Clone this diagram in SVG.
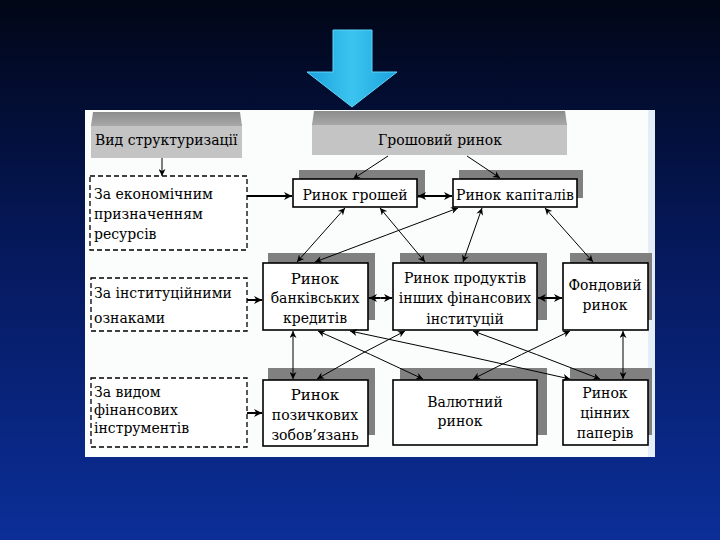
<svg xmlns="http://www.w3.org/2000/svg" width="720" height="540" viewBox="0 0 720 540">
<defs>
<linearGradient id="bg" x1="0" y1="0" x2="0" y2="1">
<stop offset="0" stop-color="#010616"/>
<stop offset="0.45" stop-color="#05185a"/>
<stop offset="1" stop-color="#0b2e98"/>
</linearGradient>
<linearGradient id="arr" x1="0" y1="0" x2="1" y2="0">
<stop offset="0" stop-color="#1aa2dc"/>
<stop offset="0.5" stop-color="#3cc4f0"/>
<stop offset="1" stop-color="#1aa2dc"/>
</linearGradient>
<linearGradient id="band" x1="0" y1="0" x2="0" y2="1">
<stop offset="0" stop-color="#8c8c8c"/>
<stop offset="1" stop-color="#a8a8a8"/>
</linearGradient>
<marker id="a" viewBox="0 0 10 10" refX="10" refY="5" markerWidth="9" markerHeight="7" markerUnits="userSpaceOnUse" orient="auto">
<path d="M0,0 L10,5 L0,10 L3,5 Z" fill="#000"/>
</marker>
<marker id="b" viewBox="0 0 10 10" refX="10" refY="5" markerWidth="11" markerHeight="8" markerUnits="userSpaceOnUse" orient="auto">
<path d="M0,0 L10,5 L0,10 L3,5 Z" fill="#000"/>
</marker>
</defs>
<style>
text{font-family:"DejaVu Serif","Liberation Serif",serif;font-size:14px;fill:#000}
.c{text-anchor:middle}
.sh{fill:#808080}
.bx{fill:#fff;stroke:#000;stroke-width:1.6}
.ds{fill:#fff;stroke:#000;stroke-width:1.3;stroke-dasharray:5 3}
.gr{fill:#c4c4c4}
.ln{stroke:#000;stroke-width:1;fill:none;marker-end:url(#a)}
.tk{stroke:#000;stroke-width:2;fill:none;marker-end:url(#b)}
</style>
<rect width="720" height="540" fill="url(#bg)"/>
<g id="big-arrow">
<path d="M333,30 H372 V72 H397 L352,107 L307,72 H333 Z" fill="url(#arr)" stroke="#5fd6f8" stroke-width="1"/>
</g>
<rect id="panel" x="85" y="110" width="570" height="347" fill="#fbfcfc"/>
<rect x="648" y="110" width="7" height="347" fill="#e4eef8"/>

<g id="vyd">
<rect class="gr" x="91" y="124" width="151" height="34"/>
<path d="M93,112 H240 L242,126 H91 Z" fill="url(#band)"/>
<text x="95" y="145">Вид структуризації</text>
</g>
<g id="groshovyi">
<rect class="gr" x="312" y="123" width="255" height="32"/>
<path d="M314,111 H565 L567,125 H312 Z" fill="url(#band)"/>
<text class="c" x="440" y="145">Грошовий ринок</text>
</g>

<g id="d1">
<rect class="ds" x="90" y="176" width="157" height="74"/>
<text x="94" y="199">За економічним</text>
<text x="94" y="219">призначенням</text>
<text x="94" y="239">ресурсів</text>
</g>
<g id="d2">
<rect class="ds" x="91" y="278" width="156" height="53"/>
<text x="94" y="298">За інституційними</text>
<text x="94" y="323">ознаками</text>
</g>
<g id="d3">
<rect class="ds" x="91" y="378" width="156" height="69"/>
<text x="94" y="397">За видом</text>
<text x="94" y="415">фінансових</text>
<text x="94" y="433">інструментів</text>
</g>

<g id="groshei">
<rect class="sh" x="299" y="170" width="126" height="28"/>
<rect class="bx" x="293" y="179" width="124" height="28"/>
<text class="c" x="355" y="200">Ринок грошей</text>
</g>
<g id="kapitaliv">
<rect class="sh" x="459" y="170" width="124" height="28"/>
<rect class="bx" x="453" y="179" width="124" height="28"/>
<text class="c" x="515" y="200">Ринок капіталів</text>
</g>

<g id="bank">
<rect class="sh" x="268" y="253" width="107" height="67"/>
<rect class="bx" x="263" y="263" width="105" height="67"/>
<text class="c" x="315" y="284" style="font-size:15px">Ринок</text>
<text class="c" x="315" y="303">банківських</text>
<text class="c" x="315" y="323">кредитів</text>
</g>
<g id="produkty">
<rect class="sh" x="400" y="253" width="147" height="67"/>
<rect class="bx" x="393" y="263" width="144" height="67"/>
<text class="c" x="465" y="283">Ринок продуктів</text>
<text class="c" x="465" y="303">інших  фінансових</text>
<text class="c" x="465" y="324">інституцій</text>
</g>
<g id="fondovyi">
<rect class="sh" x="570" y="253" width="82" height="67"/>
<rect class="bx" x="563" y="263" width="85" height="67"/>
<text class="c" x="605" y="290">Фондовий</text>
<text class="c" x="605" y="310">ринок</text>
</g>

<g id="pozychkovykh">
<rect class="sh" x="268" y="368" width="107" height="67"/>
<rect class="bx" x="263" y="380" width="105" height="66"/>
<text class="c" x="315" y="400" style="font-size:15px">Ринок</text>
<text class="c" x="315" y="420">позичкових</text>
<text class="c" x="315" y="440">зобов’язань</text>
</g>
<g id="valiutnyi">
<rect class="sh" x="400" y="368" width="147" height="67"/>
<rect class="bx" x="393" y="380" width="144" height="65"/>
<text class="c" x="465" y="407">Валютний</text>
<text class="c" x="460" y="426">ринок</text>
</g>
<g id="tsinnykh">
<rect class="sh" x="570" y="368" width="82" height="67"/>
<rect class="bx" x="563" y="380" width="85" height="65"/>
<text class="c" x="605" y="398">Ринок</text>
<text class="c" x="605" y="418">цінних</text>
<text class="c" x="605" y="438">паперів</text>
</g>

<g id="connectors">
<line class="ln" x1="162" y1="158" x2="162" y2="176"/>
<line class="ln" x1="388" y1="156" x2="353" y2="179"/>
<line class="ln" x1="467" y1="156" x2="500" y2="178"/>
<line class="tk" x1="247" y1="196" x2="292" y2="196"/>
<line class="tk" x1="435" y1="196" x2="418" y2="196"/>
<line class="tk" x1="435" y1="196" x2="452" y2="196"/>
<line class="ln" x1="321" y1="235" x2="345" y2="208"/>
<line class="ln" x1="321" y1="235" x2="297" y2="262"/>
<line class="ln" x1="402.5" y1="235" x2="380" y2="208"/>
<line class="ln" x1="402.5" y1="235" x2="425" y2="262"/>
<line class="ln" x1="386.5" y1="235" x2="458" y2="208"/>
<line class="ln" x1="386.5" y1="235" x2="315" y2="262"/>
<line class="ln" x1="472.5" y1="235" x2="482" y2="208"/>
<line class="ln" x1="472.5" y1="235" x2="463" y2="262"/>
<line class="ln" x1="569" y1="235" x2="545" y2="208"/>
<line class="ln" x1="569" y1="235" x2="593" y2="262"/>
<line class="tk" x1="247" y1="300" x2="262" y2="300"/>
<line class="tk" x1="380.5" y1="298" x2="369" y2="298"/>
<line class="tk" x1="380.5" y1="298" x2="392" y2="298"/>
<line class="tk" x1="550" y1="298" x2="538" y2="298"/>
<line class="tk" x1="550" y1="298" x2="562" y2="298"/>
<line class="ln" x1="293" y1="355" x2="293" y2="331"/>
<line class="ln" x1="293" y1="355" x2="293" y2="379"/>
<line class="ln" x1="623" y1="355" x2="623" y2="331"/>
<line class="ln" x1="623" y1="355" x2="623" y2="379"/>
<line class="ln" x1="370.5" y1="354.5" x2="318" y2="331"/>
<line class="ln" x1="370.5" y1="354.5" x2="423" y2="379"/>
<line class="ln" x1="460" y1="354.5" x2="350" y2="331"/>
<line class="ln" x1="460" y1="354.5" x2="570" y2="379"/>
<line class="ln" x1="361" y1="354" x2="405" y2="331"/>
<line class="ln" x1="361" y1="354" x2="317" y2="379"/>
<line class="ln" x1="536.5" y1="354.5" x2="473" y2="331"/>
<line class="ln" x1="536.5" y1="354.5" x2="600" y2="379"/>
<line class="ln" x1="521.5" y1="354.5" x2="570" y2="331"/>
<line class="ln" x1="521.5" y1="354.5" x2="473" y2="379"/>
<line class="tk" x1="247" y1="413" x2="262" y2="413"/>
</g>
</svg>
